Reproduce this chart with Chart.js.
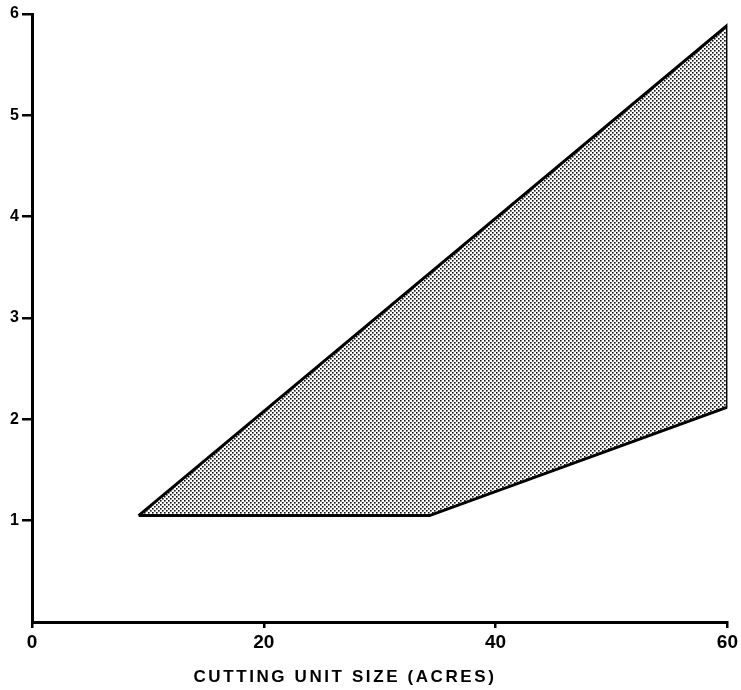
<!DOCTYPE html>
<html>
<head>
<meta charset="utf-8">
<script src="https://cdn.jsdelivr.net/npm/chart.js@4/dist/chart.umd.min.js"></script>
<style>
  html, body { margin: 0; padding: 0; background: #fff; }
  #wrap { width: 741px; height: 690px; }
</style>
</head>
<body>
<div id="wrap"><canvas id="chart" width="741" height="690"></canvas></div>
<script>
// region outline, walked in order (acres, value)
const regionX = [9.2, 34.3, 60, 60, 9.2];
const regionY = [1.05, 1.05, 2.12, 5.89, 1.05];
const xTicks = [0, 20, 40, 60];
const yTicks = [1, 2, 3, 4, 5, 6];
const xTitle = 'CUTTING UNIT SIZE (ACRES)';

// stippled fill
function dotPattern() {
    const c = document.createElement('canvas');
    c.width = 4; c.height = 4;
    const g = c.getContext('2d');
    g.fillStyle = '#fff';
    g.fillRect(0, 0, 4, 4);
    g.fillStyle = '#111';
    g.fillRect(0, 0, 1.6, 1.6);
    g.fillRect(2, 2, 1.6, 1.6);
    return g.createPattern(c, 'repeat');
}

const titlePlugin = {
    id: 'xTitle',
    afterDraw(chart) {
        const ctx = chart.ctx;
        ctx.save();
        ctx.font = 'bold 17px "Liberation Sans", sans-serif';
        ctx.letterSpacing = '2.6px';
        ctx.fillStyle = '#000';
        ctx.textAlign = 'center';
        ctx.textBaseline = 'middle';
        ctx.fillText(xTitle, chart.scales.x.getPixelForValue(27), 677);
        ctx.restore();
    }
};

new Chart(document.getElementById('chart'), {
    type: 'scatter',
    data: {
        datasets: [{
            data: regionX.map((x, i) => ({ x, y: regionY[i] })),
            showLine: true,
            fill: 'shape',
            backgroundColor: dotPattern(),
            borderColor: '#000',
            borderWidth: 3,
            pointRadius: 0,
            tension: 0
        }]
    },
    options: {
        responsive: false,
        animation: false,
        layout: { padding: { top: 14, right: 0, left: 0, bottom: 0 } },
        plugins: { legend: { display: false }, tooltip: { enabled: false } },
        scales: {
            x: {
                type: 'linear',
                min: 0, max: 60,
                afterBuildTicks: s => { s.ticks = xTicks.map(v => ({ value: v })); },
                afterFit: s => { s.height = 68; },
                border: { color: '#000', width: 3 },
                grid: { display: true, drawOnChartArea: false, drawTicks: true, tickLength: 6, color: '#000', lineWidth: 2.5 },
                ticks: { color: '#000', padding: 3, maxRotation: 0, font: { family: 'Liberation Sans', weight: 'bold', size: 19 } }
            },
            y: {
                min: 0, max: 6,
                afterBuildTicks: s => { s.ticks = yTicks.map(v => ({ value: v })); },
                afterFit: s => { s.width = 32; },
                border: { color: '#000', width: 3 },
                grid: { display: true, drawOnChartArea: false, drawTicks: true, tickLength: 10, color: '#000', lineWidth: 2.5 },
                ticks: { color: '#000', padding: 3, font: { family: 'Liberation Sans', weight: 'bold', size: 16 } }
            }
        }
    },
    plugins: [titlePlugin]
});
</script>
</body>
</html>
